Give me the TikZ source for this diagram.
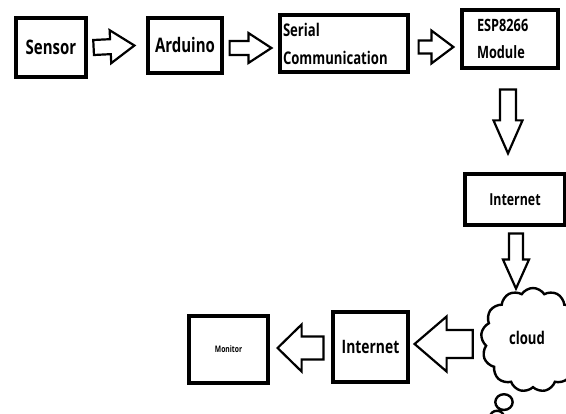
\documentclass[tikz,border=0pt]{standalone}
\usepackage{fontspec}
\setmainfont{Open Sans}[FakeStretch=0.75]
\usetikzlibrary{calc,shapes.symbols,shapes.callouts}
\tikzset{
  blk/.style={draw, line width=3.2pt, fill=white, inner sep=0pt},
  barr/.style={draw, line width=2.2pt, line join=miter, fill=white},
}
% block arrow: #1 from, #2 to, #3 shaft half width, #4 head half width, #5 head length
\newcommand{\blockarrow}[5]{%
  \path let \p1=($(#1)$) in coordinate (ba-a) at (\p1);
  \path let \p1=($(#2)$) in coordinate (ba-b) at (\p1);
  \coordinate (ba-c) at ($(ba-b)!#5!(ba-a)$);
  \draw[barr] ($(ba-a)!#3!90:(ba-b)$) -- ($(ba-c)!#3!-90:(ba-a)$) -- ($(ba-c)!#4!-90:(ba-a)$)
     -- (ba-b) -- ($(ba-c)!#4!90:(ba-a)$) -- ($(ba-c)!#3!90:(ba-a)$) -- ($(ba-a)!#3!-90:(ba-b)$) -- cycle;
}
\begin{document}
\begin{tikzpicture}[x=1pt,y=-1pt]
\useasboundingbox (0,0) rectangle (566,414);
\clip (0,0) rectangle (566,414);
\fill[white] (0,0) rectangle (566,414);

\node[blk, minimum width=70pt, minimum height=59pt, font=\bfseries\fontsize{20}{22}\selectfont] (sensor) at (51,47.5) {Sensor};
\node[blk, minimum width=74pt, minimum height=55pt, font=\bfseries\fontsize{20}{22}\selectfont] (arduino) at (185,45.5) {Arduino};
\node[blk, minimum width=128pt, minimum height=57pt, align=left, text width=122pt, inner xsep=3pt,
      font=\bfseries\fontsize{17.5}{28}\selectfont] (serial) at (344,43.5) {Serial\\Communication};
\node[blk, minimum width=96pt, minimum height=58pt, align=left, text width=66pt, inner xsep=15pt,
      font=\bfseries\fontsize{17}{27}\selectfont] (esp) at (510,39) {ESP8266\\Module};
\node[blk, minimum width=100pt, minimum height=51pt, font=\bfseries\fontsize{16.5}{16}\selectfont] (inet1) at (515,199.5) {Internet};
\node[draw, line width=2.4pt, fill=white, cloud callout, cloud puffs=13, cloud puff arc=115, aspect=1,
      minimum width=104pt, minimum height=104pt, inner sep=0pt,
      callout absolute pointer={(490,432)}, callout pointer segments=3,
      font=\bfseries\fontsize{17.5}{16}\selectfont] (cloud) at (533,340) {\hspace*{-12pt}\raisebox{4pt}{cloud}};
\node[blk, minimum width=75pt, minimum height=70pt, font=\bfseries\fontsize{18.5}{18}\selectfont] (inet2) at (370.5,347) {Internet};
\node[blk, minimum width=79pt, minimum height=67pt, font=\bfseries\fontsize{9}{9}\selectfont] (monitor) at (228.5,349.5) {Monitor};

\blockarrow{$(sensor.east)+(6,0)$}{$(arduino.west)+(-12,0)$}{7.5pt}{16.5pt}{24pt}
\blockarrow{$(arduino.east)+(6,2.5)$}{$(serial.west)+(-7,4.5)$}{7pt}{15pt}{23pt}
\blockarrow{$(serial.east)+(9,3.5)$}{$(esp.west)+(-7,8)$}{6.5pt}{16.5pt}{22pt}
\blockarrow{$(esp.south)+(-2,20)$}{$(inet1.north)+(-7,-19)$}{8pt}{14.5pt}{33pt}
\blockarrow{$(inet1.south)+(1,7)$}{$(inet1.south)+(1,62)$}{7pt}{13pt}{29pt}
\blockarrow{$(cloud.west)+(-8,4)$}{$(inet2.east)+(5,-3)$}{14pt}{27.5pt}{32pt}
\blockarrow{$(inet2.west)+(-8,1)$}{$(monitor.east)+(8,-1.5)$}{11.5pt}{23.5pt}{24pt}
\end{tikzpicture}
\end{document}
